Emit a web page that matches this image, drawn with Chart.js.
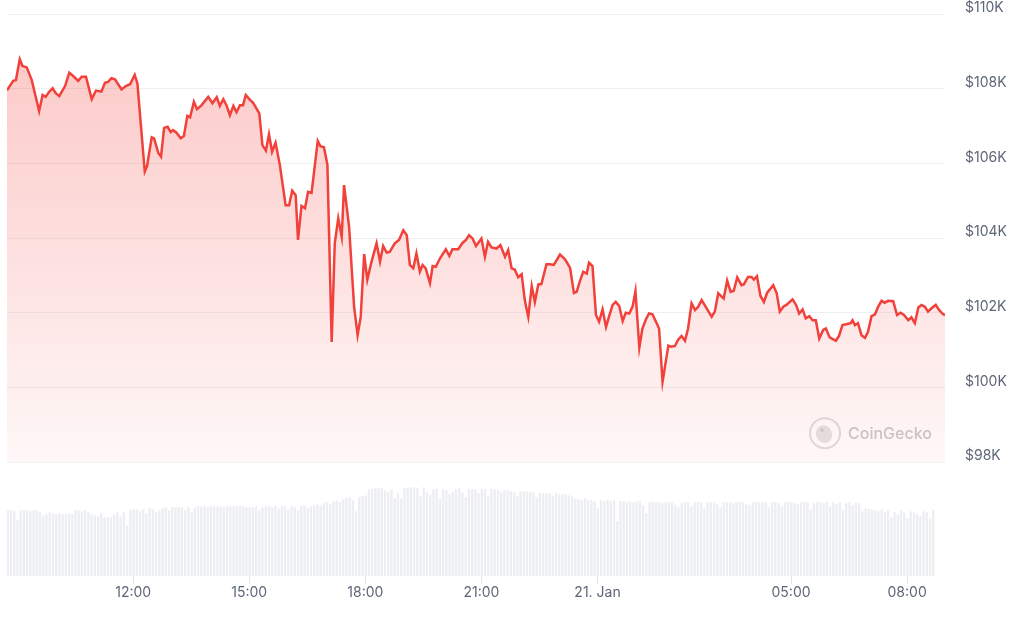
<!DOCTYPE html>
<html>
<head>
<meta charset="utf-8">
<title>BTC price 24h</title>
<script src="https://cdn.jsdelivr.net/npm/chart.js@4.4.0/dist/chart.umd.min.js"></script>
<style>
  html, body { margin: 0; padding: 0; background: #fff; }
</style>
</head>
<body>
<canvas id="price-chart" width="1031" height="621"></canvas>
<script>
// hours counted from 20 Jan 00:00
var times = [8.74, 8.90, 8.97, 9.07, 9.14, 9.25, 9.38, 9.46, 9.57, 9.66, 9.74, 9.83, 9.92, 10.00, 10.09, 10.24, 10.35, 10.47, 10.58, 10.67, 10.78, 10.93, 11.04, 11.18, 11.27, 11.35, 11.44, 11.53, 11.70, 11.81, 11.92, 12.04, 12.11, 12.30, 12.36, 12.48, 12.54, 12.65, 12.72, 12.80, 12.89, 12.97, 13.03, 13.12, 13.23, 13.31, 13.40, 13.47, 13.57,
  13.65, 13.77, 13.94, 14.05, 14.16, 14.24, 14.33, 14.41, 14.50, 14.59, 14.67, 14.76, 14.84, 14.91, 15.02, 15.10, 15.26, 15.34, 15.43, 15.51, 15.59, 15.68, 15.79, 15.94, 16.03, 16.11, 16.20, 16.26, 16.35, 16.44, 16.52, 16.61, 16.77, 16.84, 16.93, 17.02, 17.13, 17.21, 17.30, 17.39, 17.45, 17.58, 17.71, 17.80, 17.88, 17.97, 18.05, 18.16, 18.29, 18.38, 18.46,
  18.55, 18.63, 18.76, 18.87, 18.98, 19.07, 19.15, 19.24, 19.32, 19.41, 19.48, 19.56, 19.67, 19.74, 19.82, 19.93, 20.08, 20.17, 20.25, 20.40, 20.51, 20.60, 20.68, 20.77, 20.86, 21.00, 21.09, 21.17, 21.26, 21.39, 21.49, 21.61, 21.69, 21.78, 21.86, 21.95, 22.04, 22.12, 22.21, 22.30, 22.38, 22.47, 22.55, 22.68, 22.77, 22.87, 23.03, 23.16, 23.29, 23.39,
  23.46, 23.54, 23.63, 23.72, 23.78, 23.87, 23.96, 24.04, 24.13, 24.22, 24.30, 24.39, 24.47, 24.56, 24.65, 24.73, 24.82, 24.91, 24.98, 25.08, 25.16, 25.25, 25.33, 25.42, 25.51, 25.59, 25.68, 25.83, 25.91, 26.00, 26.08, 26.17, 26.26, 26.34, 26.43, 26.52, 26.60, 26.69, 26.82, 26.95, 27.03, 27.12, 27.26, 27.35, 27.44, 27.52, 27.61, 27.72, 27.78, 27.89, 27.98, 28.04, 28.12, 28.21, 28.30,
  28.38, 28.54, 28.63, 28.71, 28.80, 28.88, 29.04, 29.13, 29.21, 29.30, 29.38, 29.47, 29.56, 29.64, 29.73, 29.83, 29.90, 30.00, 30.16, 30.24, 30.33, 30.45, 30.54, 30.59, 30.65, 30.73, 30.82, 30.91, 30.99, 31.08, 31.17, 31.25, 31.34, 31.42, 31.51, 31.64, 31.74, 31.83, 31.92, 32.03, 32.11, 32.20, 32.29, 32.37, 32.46, 32.54, 32.63, 32.74, 32.83, 32.93, 32.98];

var prices = [107960, 108210, 108230, 108790, 108610, 108570, 108230, 107880, 107400, 107830, 107780, 107920, 108010, 107880, 107800, 108070, 108430, 108320, 108210, 108320, 108320, 107720, 107950, 107920, 108160, 108180, 108280, 108250, 107980, 108070, 108120, 108370, 108140, 105780, 105930, 106700, 106670, 106280, 106180, 106950, 106980, 106840, 106890, 106820, 106670, 106730, 107270, 107230, 107650,
  107450, 107560, 107780, 107610, 107770, 107540, 107720, 107560, 107290, 107540, 107370, 107560, 107560, 107830, 107700, 107620, 107340, 106490, 106340, 106780, 106310, 106550, 105960, 104880, 104880, 105270, 105150, 103950, 104860, 104800, 105240, 105210, 106600, 106460, 106430, 105960, 101220, 103860, 104530, 104030, 105420, 104300, 102160, 101400, 101890, 103570, 102880, 103370, 103860, 103370, 103790,
  103610, 103630, 103860, 103950, 104210, 104080, 103280, 103190, 103590, 103100, 103280, 103190, 102790, 103250, 103230, 103460, 103700, 103520, 103700, 103700, 103870, 103950, 104080, 103990, 103790, 103990, 103500, 103900, 103750, 103720, 103810, 103500, 103680, 103190, 103160, 102950, 103030, 102340, 101890, 102710, 102290, 102760, 102770, 103300, 103300, 103280, 103560, 103430, 103200, 102530,
  102560, 102830, 103100, 103050, 103340, 103250, 101940, 101760, 102090, 101620, 101910, 102210, 102290, 102180, 101780, 102000, 101980, 102180, 102580, 101070, 101580, 101820, 101980, 101960, 101760, 101580, 100150, 101120, 101090, 101110, 101270, 101380, 101250, 101580, 102250, 102070, 102160, 102340, 102120, 101890, 102030, 102520, 102380, 102860, 102560, 102590, 102950, 102740, 102760, 102960, 102960, 102890, 102980, 102450, 102290,
  102530, 102740, 102520, 102030, 102160, 102210, 102360, 102210, 101980, 102090, 101850, 101910, 101800, 101800, 101310, 101540, 101580, 101340, 101250, 101380, 101670, 101700, 101720, 101800, 101670, 101720, 101400, 101330, 101490, 101910, 101960, 102160, 102320, 102270, 102320, 102310, 101940, 102000, 101940, 101800, 101880, 101720, 102140, 102210, 102160, 102030, 102120, 102210, 102070, 101960, 101940];

// 5 minute volume bars, relative height
var volumeStart = 8.76;
var volumes = [66, 66, 65, 56, 66, 66, 66, 65, 66, 66, 64, 61,
  62, 64, 63, 62, 63, 62, 62, 63, 62, 66, 66, 65,
  66, 64, 62, 61, 60, 63, 59, 59, 59, 62, 64, 60,
  64, 51, 66, 67, 67, 65, 67, 63, 68, 67, 64, 66,
  68, 69, 66, 69, 69, 69, 69, 66, 69, 64, 68, 70,
  70, 70, 69, 70, 70, 70, 70, 69, 70, 70, 70, 70,
  70, 70, 69, 69, 69, 70, 66, 69, 70, 70, 69, 70,
  68, 70, 70, 67, 70, 69, 66, 70, 71, 68, 70, 71,
  72, 71, 73, 74, 72, 75, 76, 74, 77, 78, 79, 76,
  65, 79, 80, 81, 87, 87, 88, 88, 88, 86, 84, 87,
  78, 83, 78, 88, 88, 89, 89, 88, 80, 89, 84, 81,
  87, 87, 78, 87, 86, 82, 84, 87, 88, 84, 79, 87,
  87, 87, 83, 87, 87, 80, 87, 87, 86, 84, 86, 86,
  85, 84, 80, 85, 85, 85, 84, 84, 79, 83, 83, 83,
  83, 80, 83, 82, 82, 82, 81, 80, 78, 77, 76, 78,
  76, 76, 75, 68, 76, 75, 76, 75, 76, 55, 75, 75,
  74, 75, 74, 75, 75, 71, 63, 74, 75, 74, 74, 73,
  74, 74, 74, 71, 69, 73, 74, 74, 70, 74, 74, 74,
  68, 74, 74, 74, 72, 69, 74, 74, 74, 73, 74, 74,
  74, 72, 71, 74, 74, 74, 74, 74, 69, 74, 74, 73,
  70, 74, 74, 74, 73, 72, 74, 74, 74, 67, 73, 74,
  74, 73, 74, 70, 74, 72, 74, 66, 73, 74, 71, 74,
  73, 65, 68, 67, 67, 66, 65, 67, 64, 66, 59, 64,
  62, 66, 64, 58, 65, 64, 62, 60, 65, 64, 58, 66];

var tickHours = [12, 15, 18, 21, 24, 29, 32];
var tickLabels = ["12:00", "15:00", "18:00", "21:00", "21. Jan", "05:00", "08:00"];

var lineColor = "#f2403a";
var labelColor = "#5d6676";

Chart.defaults.font.family = "Inter, 'Noto Sans', sans-serif";
Chart.defaults.font.size = 14;

var pricePoints = times.map(function (t, i) {
  return { x: t, y: prices[i] };
});
var volumePoints = volumes.map(function (v, i) {
  return { x: volumeStart + i / 12, y: v };
});

// little CoinGecko mark in the lower right of the price area
var watermark = {
  id: "watermark",
  beforeDatasetsDraw: function (chart) {
    var ctx = chart.ctx,
      cx = chart.chartArea.right - 120,
      cy = chart.scales.y.bottom - 29;
    ctx.save();
    ctx.fillStyle = "rgba(255,255,255,0.55)";
    ctx.strokeStyle = "#dedede";
    ctx.lineWidth = 2;
    ctx.beginPath();
    ctx.arc(cx, cy, 15, 0, Math.PI * 2);
    ctx.fill();
    ctx.stroke();
    ctx.fillStyle = "#e4e4e4";
    ctx.beginPath();
    ctx.ellipse(cx - 1, cy + 1, 8, 9, -0.4, 0, Math.PI * 2);
    ctx.fill();
    ctx.fillStyle = "#c8c8c8";
    ctx.beginPath();
    ctx.arc(cx - 3, cy - 3, 1.6, 0, Math.PI * 2);
    ctx.fill();
    ctx.fillStyle = "#c9c9c9";
    ctx.font = "500 16px Inter, 'Noto Sans', sans-serif";
    ctx.textBaseline = "middle";
    ctx.fillText("CoinGecko", cx + 23, cy + 1);
    ctx.restore();
  },
};

var ctChart = new Chart(document.getElementById("price-chart"), {
  data: {
    datasets: [
      {
        type: "line",
        label: "Price",
        data: pricePoints,
        xAxisID: "x",
        yAxisID: "y",
        borderColor: lineColor,
        borderWidth: 2.5,
        pointRadius: 0,
        tension: 0,
        fill: "start",
        backgroundColor: function (context) {
          var chart = context.chart,
            scale = chart.scales.y;
          if (!chart.chartArea || !scale) return "rgba(242,64,58,0.15)";
          var g = chart.ctx.createLinearGradient(0, scale.top, 0, scale.bottom);
          g.addColorStop(0, "rgba(242,64,58,0.30)");
          g.addColorStop(1, "rgba(242,64,58,0.04)");
          return g;
        },
        order: 1,
      },
      {
        type: "bar",
        label: "Volume",
        data: volumePoints,
        xAxisID: "x",
        yAxisID: "v",
        backgroundColor: "#eceef2",
        barPercentage: 0.72,
        categoryPercentage: 1,
        order: 2,
      },
    ],
  },
  options: {
    responsive: false,
    animation: false,
    layout: {
      padding: { left: 7, top: 14, right: 4, bottom: 20 },
    },
    plugins: {
      legend: { display: false },
      tooltip: { enabled: false },
    },
    scales: {
      x: {
        type: "linear",
        offset: false,
        min: times[0],
        max: times[times.length - 1],
        afterBuildTicks: function (scale) {
          scale.ticks = tickHours.map(function (h) {
            return { value: h };
          });
        },
        ticks: {
          autoSkip: false,
          maxRotation: 0,
          padding: 0,
          color: labelColor,
          callback: function (value, index) {
            return tickLabels[index];
          },
        },
        grid: {
          drawOnChartArea: false,
          offset: false,
          tickLength: 8,
          color: "#e3e6ea",
        },
        border: { display: false },
      },
      y: {
        position: "right",
        stack: "main",
        stackWeight: 448,
        min: 98000,
        max: 110000,
        // tick padding would otherwise be added above the plot too
        afterFit: function (scale) {
          scale.paddingTop = 0;
          scale.paddingBottom = 0;
        },
        ticks: {
          stepSize: 2000,
          padding: 20,
          labelOffset: -6,
          color: labelColor,
          callback: function (value) {
            return "$" + value / 1000 + "K";
          },
        },
        grid: { color: "#eff0f2", drawTicks: false },
        border: { display: false },
      },
      v: {
        position: "right",
        stack: "main",
        stackWeight: 114,
        min: 0,
        max: 114,
        display: false,
      },
    },
  },
  plugins: [watermark],
});
</script>
</body>
</html>
